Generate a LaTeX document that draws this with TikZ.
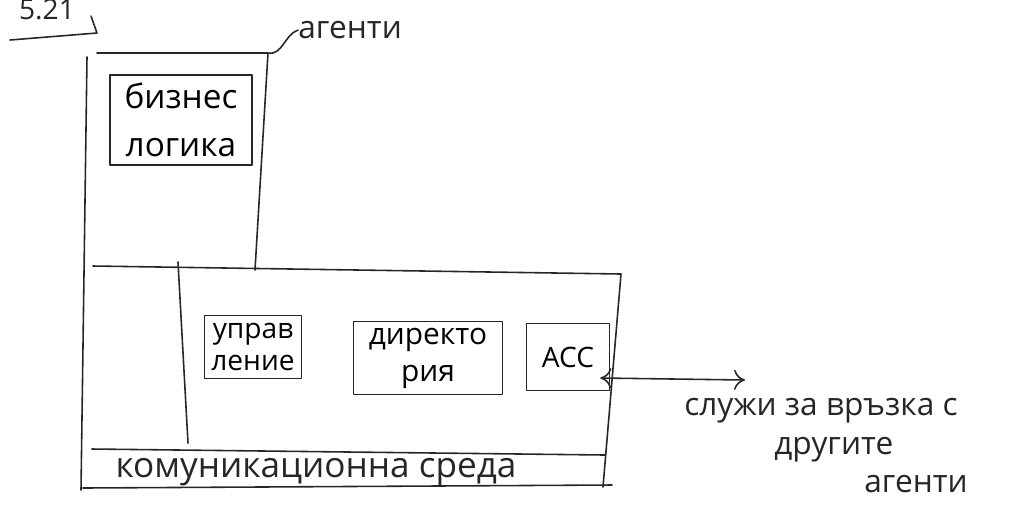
\documentclass[tikz,border=0pt]{standalone}
\usepackage{fontspec}
\setmainfont{Open Sans}
\usepackage{tikz}
\usetikzlibrary{positioning,arrows.meta}

\begin{document}
\begin{tikzpicture}[x=0.02cm,y=-0.02cm,
    >={To[length=2.2mm,width=4mm]},
    pen/.style={draw=black!85,line width=0.9pt,line cap=round,line join=round},
    box/.style={pen,rectangle,inner sep=2pt},
    txt/.style={text=black!85,inner sep=0pt}]
    \useasboundingbox (0,0) rectangle (1024,529);

    % heading
    \node[txt,font=\fontsize{16}{18}\selectfont] (num) at (47,10) {5.21};
    \draw[pen] (10,40) -- (97,33) -- (91,16);

    % agent frame
    \draw[pen] (97,53) -- (268,53) -- (255,270);
    \draw[pen] (87,57) -- (81,490);
    \draw[pen] (93,266) -- (621,274) -- (603,487);
    \draw[pen] (83,488) -- (612,485);
    \draw[pen] (178,262) -- (188,443);
    \draw[pen] (92,449) -- (605,455);

    \node[box,minimum width=2.84cm,minimum height=1.8cm,align=center,
          font=\fontsize{19}{27}\selectfont] (biz) at (181,120) {бизнес\\логика};
    \node[box,minimum width=1.94cm,minimum height=1.26cm,align=center,
          font=\fontsize{16}{18}\selectfont] (upr) at (253,347) {управ\\ление};
    \node[box,minimum width=2.98cm,minimum height=1.46cm,align=center,
          font=\fontsize{17}{21}\selectfont] (dir) at (428,358) {директо\\рия};
    \node[box,minimum width=1.66cm,minimum height=1.34cm,
          font=\fontsize{16}{18}\selectfont] (acc) at (568,357) {ACC};

    \node[txt,font=\fontsize{20}{22}\selectfont] (env) at (316,472) {комуникационна среда};

    % labels
    \node[txt,font=\fontsize{18}{20}\selectfont,anchor=west] (ag) at (298,30) {агенти};
    \coordinate (corner) at (268,53);
    \draw[pen] (corner) to[out=-10,in=200] (ag.west);

    \node[txt,font=\fontsize{18}{22}\selectfont,align=left,anchor=north west] (note) at (684,398)
        {служи за връзка с\\\hspace*{1.8cm}другите\\\hspace*{3.6cm}агенти};
    \coordinate (lnk) at (745,380);
    \draw[pen,<->] ([shift={(-0.2cm,-0.42cm)}]acc.east) -- (lnk);
\end{tikzpicture}
\end{document}
